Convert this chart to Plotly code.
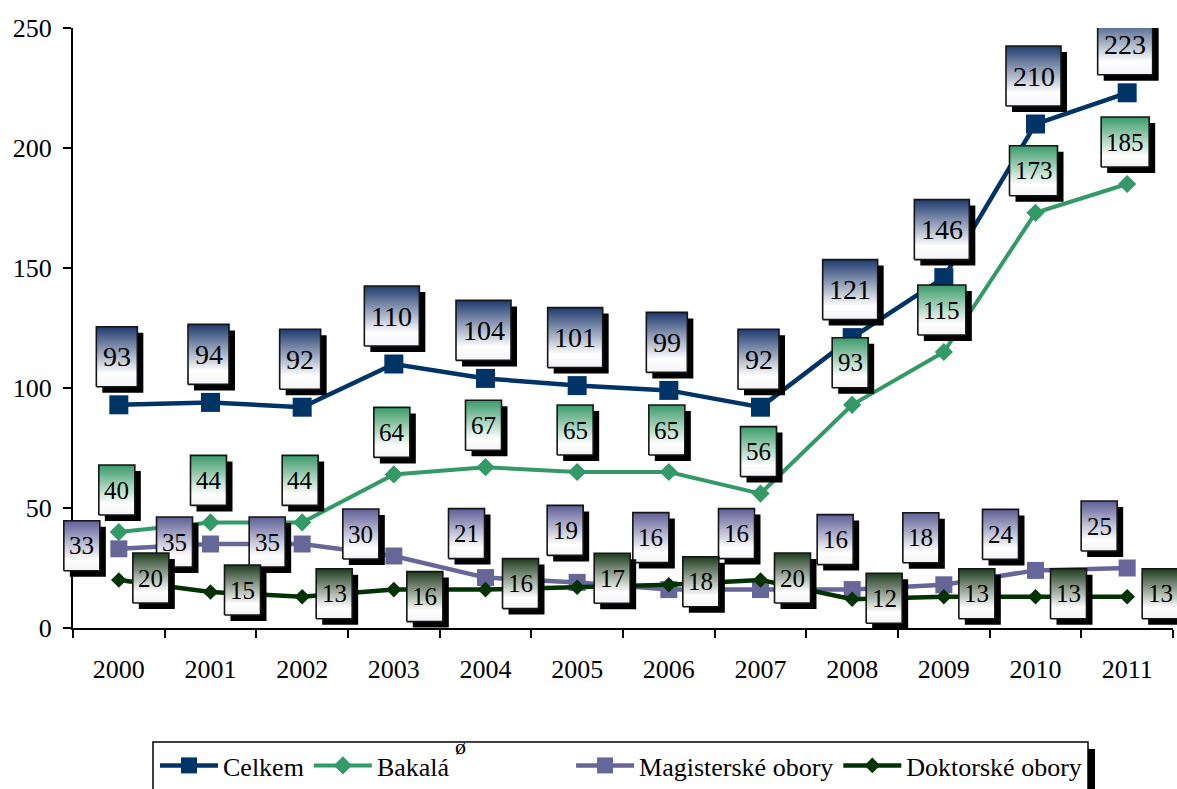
import plotly.graph_objects as go

# ---------------- data ----------------
years = [2000, 2001, 2002, 2003, 2004, 2005, 2006, 2007, 2008, 2009, 2010, 2011]
celkem = [93, 94, 92, 110, 104, 101, 99, 92, 121, 146, 210, 223]
bakalarske = [40, 44, 44, 64, 67, 65, 65, 56, 93, 115, 173, 185]
magisterske = [33, 35, 35, 30, 21, 19, 16, 16, 16, 18, 24, 25]
doktorske = [20, 15, 13, 16, 16, 17, 18, 20, 12, 13, 13, 13]

names = ["Celkem", "Bakalá", "Magisterské obory", "Doktorské obory"]

# ---------------- geometry / style ----------------
W, H = 1177, 789
ML, MR, MT, MB = 60, 0, 28, 161          # paper margins
AX_L, AX_R = 73, 1173                     # main plot area (px)
PPW, PPH = W - ML - MR, H - MT - MB
X_RANGE = [years[0] - 0.5, years[-1] + 0.5]
Y_RANGE = [0, 250]
PX_X = (AX_R - AX_L) / (X_RANGE[1] - X_RANGE[0])
PX_Y = PPH / (Y_RANGE[1] - Y_RANGE[0])
# wider overlay subplot (same scale) so label boxes are not clipped at the axes
X2_RANGE = [X_RANGE[0] - (AX_L - ML) / PX_X, X_RANGE[1] + (W - MR - AX_R) / PX_X]
FONT = "Liberation Serif"
SH = 6  # label shadow offset (px)
NBSP = "\u00a0"
legend_pad = [0, 18, 0, 0]  # trailing spacing in legend entries

line_colors = ["#003366", "#339966", "#666699", "#003300"]
grad_colors = ["#1f3a6e", "#3a9a68", "#5e5e96", "#1e3b1e"]
symbols = ["square", "diamond", "square", "diamond"]
msizes = [19, 14, 17, 12]
lwidths = [4.5, 4, 4.5, 4.5]

# label placement (pixel offset of box centre from the point), box size, font size
nudges = [
    [(-2, -48)] * 12,
    [(-2, -42)] * 12,
    [(-37, -3), (-36, -2), (-35, -2), (-33, -22), (-19, -44), (-12, -52),
     (-18, -52), (-24, -56), (-17, -50), (-23, -47), (-35, -36), (-28, -42)],
    [(32, -2), (32, -2), (32, -3), (31, 7), (35, -6), (35, -9),
     (32, -3), (32, -2), (32, -1), (33, -3), (33, -3), (33, -3)],
]
box_h = [60, 50, 50, 50]
box_w2 = [41, 36, 36, 36]
box_w3 = [55, 48, 48, 48]
lab_font = [28, 25, 25, 25]

series = [celkem, bakalarske, magisterske, doktorske]

fig = go.Figure()
for s, vals in enumerate(series):
    fig.add_trace(go.Scatter(
        x=years, y=vals, name=names[s] + NBSP * legend_pad[s], mode="lines+markers",
        line=dict(color=line_colors[s], width=lwidths[s]),
        marker=dict(symbol=symbols[s], size=msizes[s], color=line_colors[s],
                    line=dict(width=0)),
        hoverinfo="skip", xaxis="x", yaxis="y",
    ))


def rect_xy(x0, x1, y0, y1):
    return [x0, x1, x1, x0, x0], [y0, y0, y1, y1, y0]


annotations = []
for s, vals in enumerate(series):
    for i, (yr, v) in enumerate(zip(years, vals)):
        dx, dy = nudges[s][i]
        w = box_w3[s] if v >= 100 else box_w2[s]
        h = box_h[s]
        xc = yr + dx / PX_X
        yc = v - dy / PX_Y
        hw, hh = (w / 2) / PX_X, (h / 2) / PX_Y
        ox, oy = SH / PX_X, SH / PX_Y
        sx, sy = rect_xy(xc - hw + ox, xc + hw + ox, yc - hh - oy, yc + hh - oy)
        fig.add_trace(go.Scatter(
            x=sx, y=sy, mode="lines", fill="toself", fillcolor="#000",
            line=dict(width=0, color="#000"), showlegend=False, hoverinfo="skip",
            xaxis="x2", yaxis="y2",
        ))
        bx, by = rect_xy(xc - hw, xc + hw, yc - hh, yc + hh)
        fig.add_trace(go.Scatter(
            x=bx, y=by, mode="lines", fill="toself",
            fillgradient=dict(type="vertical", start=yc - hh, stop=yc + hh,
                              colorscale=[[0, "#f3f3f7"], [0.22, "#ffffff"],
                                          [1, grad_colors[s]]]),
            line=dict(width=1.6, color="#151515"), showlegend=False, hoverinfo="skip",
            xaxis="x2", yaxis="y2",
        ))
        annotations.append(dict(
            x=xc, y=yc, xref="x2", yref="y2", text=str(v), showarrow=False,
            font=dict(family=FONT, size=lab_font[s], color="#000"),
            xanchor="center", yanchor="middle",
        ))


def px2paper_x(px):
    return (px - ML) / PPW


def px2paper_y(py):
    return (H - MB - py) / PPH


# legend frame with shadow
shapes = [
    dict(type="rect", xref="paper", yref="paper",
         x0=px2paper_x(160), x1=px2paper_x(1095), y0=px2paper_y(805), y1=px2paper_y(749),
         fillcolor="#000", line=dict(width=0), layer="above"),
    dict(type="rect", xref="paper", yref="paper",
         x0=px2paper_x(153), x1=px2paper_x(1088), y0=px2paper_y(805), y1=px2paper_y(742),
         fillcolor="#fff", line=dict(color="#000", width=1.5), layer="above"),
]
annotations.append(dict(
    x=px2paper_x(460), y=px2paper_y(746), xref="paper", yref="paper", text="ø",
    showarrow=False, font=dict(family=FONT, size=22, color="#000"),
    xanchor="center", yanchor="middle",
))

fig.update_layout(
    width=W, height=H,
    margin=dict(l=ML, r=MR, t=MT, b=MB, autoexpand=False),
    paper_bgcolor="#fff", plot_bgcolor="rgba(0,0,0,0)",
    font=dict(family=FONT, size=26, color="#000"),
    annotations=annotations, shapes=shapes,
    showlegend=True,
    legend=dict(
        orientation="h", x=px2paper_x(155), y=px2paper_y(742),
        xanchor="left", yanchor="top",
        bgcolor="rgba(0,0,0,0)", borderwidth=0,
        font=dict(family=FONT, size=26, color="#000"),
        itemsizing="trace", tracegroupgap=0, itemwidth=58,
    ),
    xaxis=dict(
        domain=[px2paper_x(AX_L), px2paper_x(AX_R)], anchor="y",
        range=X_RANGE, tickmode="array", tickvals=years,
        ticktext=[str(y) for y in years],
        ticks="outside", ticklen=17, tickcolor="rgba(0,0,0,0)",
        showline=True, linecolor="#000", linewidth=2,
        showgrid=False, zeroline=False,
        tickfont=dict(family=FONT, size=26, color="#000"),
        minor=dict(ticks="outside", tickmode="linear", tick0=X_RANGE[0], dtick=1,
                   ticklen=8, tickwidth=1.5, tickcolor="#000", showgrid=False),
    ),
    yaxis=dict(
        domain=[0, 1], anchor="x",
        range=Y_RANGE, tickmode="linear", tick0=0, dtick=50,
        ticks="outside", ticklen=8, tickwidth=1.5, tickcolor="#000",
        showline=True, linecolor="#000", linewidth=2,
        showgrid=False, zeroline=False, ticklabelstandoff=6,
        tickfont=dict(family=FONT, size=26, color="#000"),
    ),
    xaxis2=dict(domain=[0, 1], range=X2_RANGE, visible=False, anchor="y2"),
    yaxis2=dict(domain=[0, 1], range=Y_RANGE, visible=False, anchor="x2"),
)

fig.write_html("out.html")
